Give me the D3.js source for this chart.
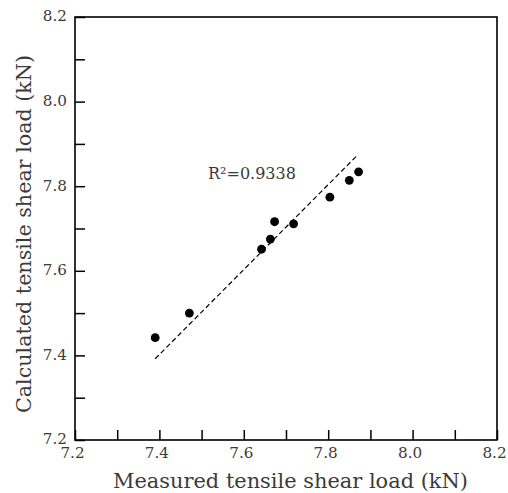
<!DOCTYPE html>
<html>
<head>
<meta charset="utf-8">
<script src="https://cdn.jsdelivr.net/npm/d3@7"></script>
<style>
  html, body { margin: 0; padding: 0; background: #fff; }
  svg { display: block; }
  text { font-family: "DejaVu Serif", "Liberation Serif", serif; fill: #3a3a3a; }
  .tick text { font-size: 15.2px; }
</style>
</head>
<body>
<svg id="chart" width="508" height="493"></svg>
<script>
// ---- data ----
const measured   = [7.390, 7.471, 7.642, 7.663, 7.673, 7.718, 7.804, 7.850, 7.872];
const calculated = [7.442, 7.500, 7.651, 7.675, 7.716, 7.711, 7.774, 7.814, 7.834];
const fitX = [7.390, 7.868];
const fitY = [7.392, 7.872];
const tickValues = [7.2, 7.3, 7.4, 7.5, 7.6, 7.7, 7.8, 7.9, 8.0, 8.1, 8.2];
const xTitle = "Measured tensile shear load (kN)";
const yTitle = "Calculated tensile shear load (kN)";
const r2Label = "R\u00B2=0.9338";

// ---- layout ----
const W = 508, H = 493;
const m = { left: 75, top: 17, right: 11, bottom: 53 };
const iw = W - m.left - m.right;   // 422
const ih = H - m.top - m.bottom;   // 423

const svg = d3.select("#chart");
const g = svg.append("g").attr("transform", `translate(${m.left},${m.top})`);

const x = d3.scaleLinear().domain([7.2, 8.2]).range([0, iw]);
const y = d3.scaleLinear().domain([7.2, 8.2]).range([ih, 0]);

function fitWidth(sel, target) {
  const node = sel.node();
  const fs = parseFloat(sel.attr("font-size"));
  const len = node.getComputedTextLength();
  if (len > 0) sel.attr("font-size", (fs * target / len).toFixed(2));
}

const fmt = (d) => (Math.round(d * 10) % 2 === 0) ? d.toFixed(1) : "";

// y axis
const yAxis = g.append("g")
  .call(d3.axisLeft(y).tickValues(tickValues).tickSize(-10).tickFormat(fmt).tickPadding(9));
// x axis
const xAxis = g.append("g").attr("transform", `translate(0,${ih})`)
  .call(d3.axisBottom(x).tickValues(tickValues).tickSize(-10).tickFormat(fmt).tickPadding(9));

[yAxis, xAxis].forEach(a => {
  a.attr("font-size", null).attr("font-family", null);
  a.select(".domain").remove();
  a.selectAll(".tick line").attr("stroke", "#000").attr("stroke-width", 1.5);
  a.selectAll(".tick text").attr("fill", "#3a3a3a");
});
yAxis.selectAll(".tick text").attr("x", -8).attr("dy", "0.26em");
xAxis.selectAll(".tick text").attr("x", -3).attr("y", 18).attr("dy", null);

// frame
g.append("rect")
  .attr("x", 0).attr("y", 0).attr("width", iw).attr("height", ih)
  .attr("fill", "none").attr("stroke", "#000").attr("stroke-width", 1.6);

// fit line
const line = d3.line().x(d => x(d[0])).y(d => y(d[1]));
g.append("path")
  .datum(fitX.map((v, i) => [v, fitY[i]]))
  .attr("d", line)
  .attr("fill", "none")
  .attr("stroke", "#000")
  .attr("stroke-width", 1.2)
  .attr("stroke-dasharray", "5,3");

// points
g.selectAll("circle.pt")
  .data(measured.map((v, i) => [v, calculated[i]]))
  .enter().append("circle")
  .attr("class", "pt")
  .attr("cx", d => x(d[0]))
  .attr("cy", d => y(d[1]))
  .attr("r", 4.4)
  .attr("fill", "#000");

// R2 label
const r2 = g.append("text")
  .attr("x", 208 - m.left)
  .attr("y", 179 - m.top)
  .attr("font-size", 16)
  .text(r2Label);
fitWidth(r2, 88);

// axis titles
const xt = svg.append("text")
  .attr("x", 290.5)
  .attr("y", 488)
  .attr("text-anchor", "middle")
  .attr("font-size", 19)
  .text(xTitle);
fitWidth(xt, 355);

const yt = svg.append("text")
  .attr("transform", `translate(31,234) rotate(-90)`)
  .attr("text-anchor", "middle")
  .attr("font-size", 19)
  .text(yTitle);
fitWidth(yt, 358);
</script>
</body>
</html>
